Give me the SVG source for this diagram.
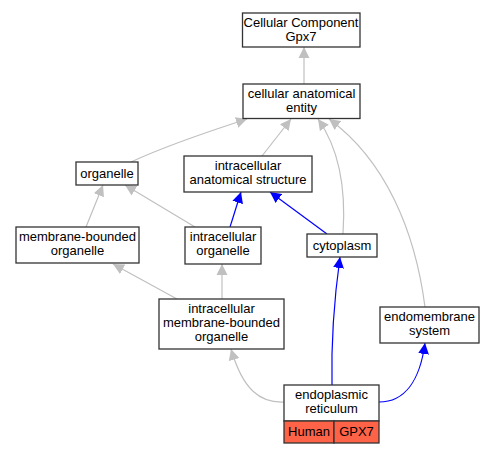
<svg xmlns="http://www.w3.org/2000/svg" width="495" height="453" viewBox="0 0 495 453">
<style>
.n rect{fill:#fff;stroke:#333;stroke-width:1.3}
.n text,.t{font-family:"Liberation Sans",Arial,sans-serif;font-size:13px;text-anchor:middle;fill:#000}
.g{fill:none;stroke:#c0c0c0;stroke-width:1.2}
.b{fill:none;stroke:#0000ff;stroke-width:1.2}
</style>
<defs>
<marker id="ag" markerUnits="userSpaceOnUse" markerWidth="12" markerHeight="12" viewBox="0 -6 12 12" refX="11" refY="0" orient="auto"><path d="M0,-5.5L11,0L0,5.5z" fill="#c0c0c0"/></marker>
<marker id="ab" markerUnits="userSpaceOnUse" markerWidth="12" markerHeight="12" viewBox="0 -6 12 12" refX="11" refY="0" orient="auto"><path d="M0,-5.5L11,0L0,5.5z" fill="#0000ff"/></marker>
</defs>
<rect width="495" height="453" fill="#fff"/>
<g id="edges">
<path class="g" d="M304,84L304,47" marker-end="url(#ag)"/>
<path class="g" d="M131,162C165,146 210,131 247,119" marker-end="url(#ag)"/>
<path class="g" d="M262,156L291,119" marker-end="url(#ag)"/>
<path class="g" d="M343,234C346,190 340,150 318,119" marker-end="url(#ag)"/>
<path class="g" d="M425,307C415,230 385,160 329,119" marker-end="url(#ag)"/>
<path class="g" d="M86,227L103,185" marker-end="url(#ag)"/>
<path class="g" d="M195,227L125,185" marker-end="url(#ag)"/>
<path class="b" d="M230,227L241,192" marker-end="url(#ab)"/>
<path class="b" d="M327,234L270,192" marker-end="url(#ab)"/>
<path class="g" d="M177,299L113,264" marker-end="url(#ag)"/>
<path class="g" d="M222,299L222,264" marker-end="url(#ag)"/>
<path class="g" d="M284,402C260,403 243,390 231,349" marker-end="url(#ag)"/>
<path class="b" d="M332,385C331,340 334,300 340,257" marker-end="url(#ab)"/>
<path class="b" d="M379,402C405,402 420,380 425,343" marker-end="url(#ab)"/>
</g>
<g id="gpx7" class="n"><rect x="242.5" y="13" width="117.5" height="34"/><text x="301" y="27">Cellular Component</text><text x="301" y="41">Gpx7</text></g>
<g id="cae" class="n"><rect x="243" y="84" width="117" height="34.5"/><text x="301.5" y="98">cellular anatomical</text><text x="301.5" y="112">entity</text></g>
<g id="organelle" class="n"><rect x="76" y="162" width="62" height="23"/><text x="107" y="178">organelle</text></g>
<g id="ias" class="n"><rect x="184" y="156" width="128" height="36"/><text x="248" y="169.5">intracellular</text><text x="248" y="183.5">anatomical structure</text></g>
<g id="io" class="n"><rect x="185" y="227" width="76" height="37"/><text x="223" y="241">intracellular</text><text x="223" y="255">organelle</text></g>
<g id="cytoplasm" class="n"><rect x="307" y="234" width="70" height="23"/><text x="342" y="250">cytoplasm</text></g>
<g id="mbo" class="n"><rect x="16" y="227" width="123" height="36"/><text x="77.5" y="241">membrane-bounded</text><text x="77.5" y="255">organelle</text></g>
<g id="imbo" class="n"><rect x="159" y="299" width="125" height="50"/><text x="221.5" y="313">intracellular</text><text x="221.5" y="327">membrane-bounded</text><text x="221.5" y="341">organelle</text></g>
<g id="endo" class="n"><rect x="380" y="307" width="99" height="36"/><text x="429.5" y="321">endomembrane</text><text x="429.5" y="335">system</text></g>
<g id="er" class="n"><rect x="284" y="385" width="95" height="36"/><text x="331.5" y="399">endoplasmic</text><text x="331.5" y="413">reticulum</text>
<rect x="284" y="421" width="50" height="22" style="fill:#ff6347"/><rect x="334" y="421" width="45" height="22" style="fill:#ff6347"/><text x="309" y="436">Human</text><text x="356.5" y="436">GPX7</text></g>
</svg>
